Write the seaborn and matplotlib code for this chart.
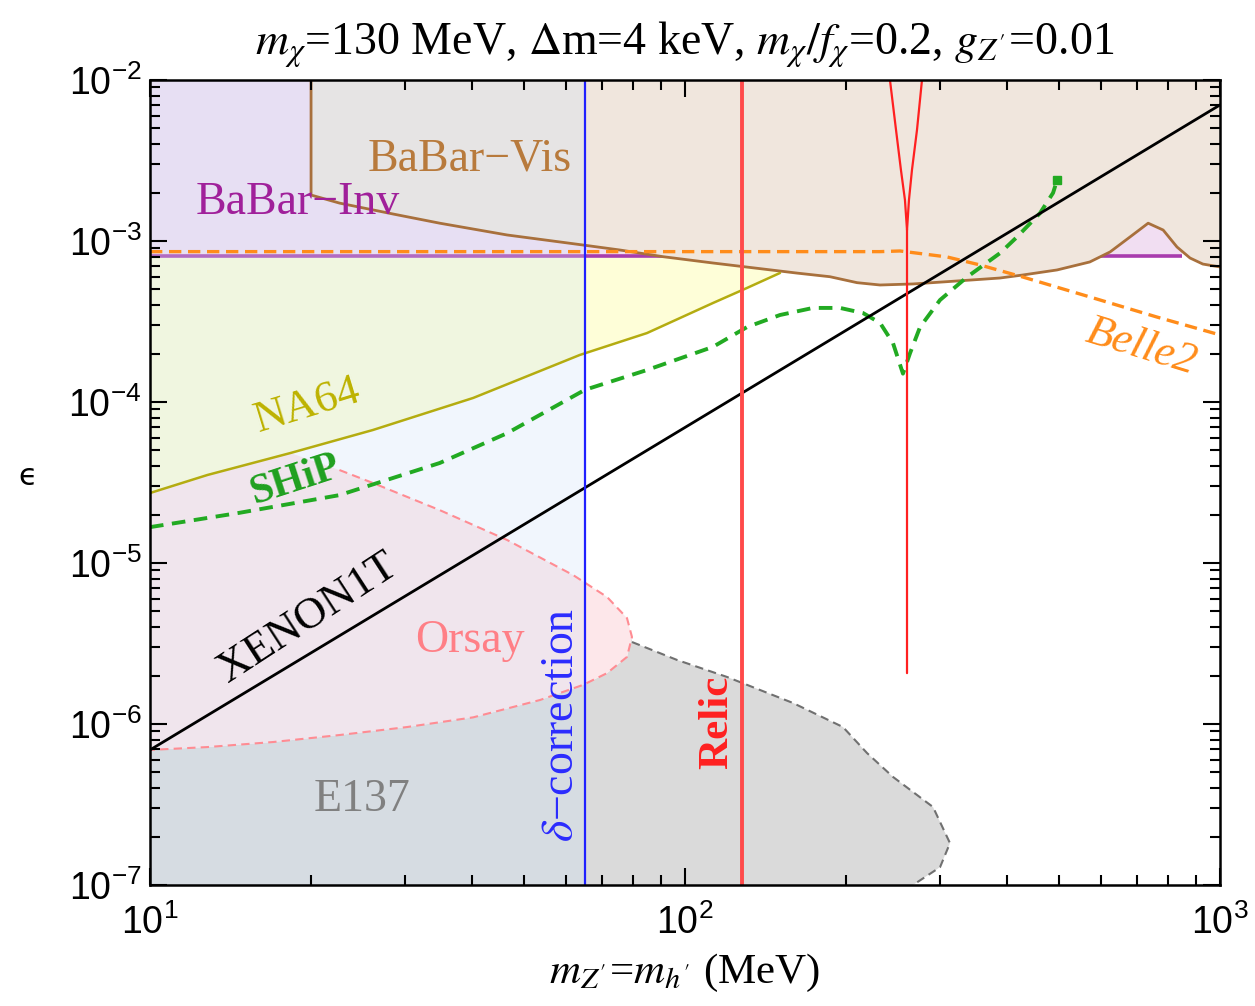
import numpy as np
import matplotlib
matplotlib.use("Agg")
import matplotlib.pyplot as plt
import seaborn as sns
from matplotlib.ticker import LogLocator, NullFormatter

# ---------------- data: dark-photon mass (MeV) vs kinetic mixing epsilon ----------------
x_range = [10.0, 1000.0]
y_range = [1e-7, 1e-2]

delta_mass = 65.0          # delta-correction boundary
relic_mass = 128.0         # relic line

babar_inv_eps = 8.07e-4
babar_inv_mmax = 849.0

babar_vis_m = [20.0, 20.0, 22.6, 28.5, 34.8, 46.5, 64.5, 75.6, 91.0, 112.8, 139.9,
               161.9, 186.6, 209.7, 231.5, 266.8, 308.9, 388.0, 428.0, 496.0, 571.0,
               623.0, 679.0, 734.0, 783.0, 831.0, 879.0, 929.0, 1000.0]
babar_vis_eps = [1e-2, 1.93e-3, 1.72e-3, 1.47e-3, 1.29e-3, 1.09e-3, 9.44e-4, 8.79e-4,
                 7.99e-4, 7.30e-4, 6.70e-4, 6.32e-4, 6.00e-4, 5.51e-4, 5.33e-4, 5.41e-4,
                 5.59e-4, 5.89e-4, 6.15e-4, 6.61e-4, 7.41e-4, 8.55e-4, 1.06e-3, 1.29e-3,
                 1.17e-3, 9.18e-4, 7.84e-4, 7.19e-4, 6.90e-4]

na64_m = [10.0, 12.8, 18.3, 26.1, 40.2, 63.6, 84.9, 112.8, 130.6, 150.5]
na64_eps = [2.72e-5, 3.52e-5, 4.82e-5, 6.70e-5, 1.06e-4, 1.96e-4, 2.68e-4, 4.12e-4,
            5.11e-4, 6.33e-4]

ship_m = [10.0, 14.7, 22.6, 34.8, 46.5, 65.0, 84.9, 112.8, 130.6, 150.5, 173.5, 194.9,
          215.1, 231.5, 244.8, 255.5, 263.4, 275.0, 299.7, 336.6, 388.0, 417.5, 460.9,
          487.5, 496.0]
ship_eps = [1.67e-5, 2.05e-5, 2.64e-5, 4.18e-5, 6.4e-5, 1.19e-4, 1.58e-4, 2.20e-4,
            2.92e-4, 3.47e-4, 3.84e-4, 3.84e-4, 3.57e-4, 3.10e-4, 2.32e-4, 1.50e-4,
            2.01e-4, 2.92e-4, 4.30e-4, 5.97e-4, 8.41e-4, 1.06e-3, 1.49e-3, 1.99e-3,
            2.39e-3]

belle2_m = [10.0, 231.5, 252.3, 308.9, 355.9, 428.3, 571.5, 762.4, 1000.0]
belle2_eps = [8.59e-4, 8.59e-4, 8.67e-4, 7.96e-4, 7.10e-4, 5.97e-4, 4.49e-4, 3.37e-4,
              2.61e-4]

xenon_m = [10.0, 1000.0]
xenon_eps = [6.9e-7, 7.0e-3]

orsay_upper_m = [22.6, 26.1, 34.8, 46.5, 61.8, 71.5, 77.9, 79.6]
orsay_upper_eps = [3.78e-5, 3.14e-5, 2.13e-5, 1.39e-5, 8.41e-6, 6.15e-6, 4.55e-6, 3.47e-6]
orsay_lower_m = [79.6, 77.9, 71.5, 64.5, 53.6, 40.2, 30.2, 22.6, 17.0, 12.8, 10.0]
orsay_lower_eps = [3.47e-6, 2.61e-6, 2.07e-6, 1.75e-6, 1.41e-6, 1.10e-6, 9.57e-7,
                   8.54e-7, 7.73e-7, 7.19e-7, 6.90e-7]

e137_m = [79.6, 96.6, 119.8, 159.2, 197.4, 218.9, 244.8, 290.8, 312.8, 299.7, 266.8]
e137_eps = [3.23e-6, 2.50e-6, 1.96e-6, 1.35e-6, 9.57e-7, 6.60e-7, 4.69e-7, 3.05e-7,
            1.82e-7, 1.29e-7, 1.0e-7]

# relic curve around the 2 m_chi resonance
relic_left_m = [241.6, 248.0, 253.3, 257.7, 260.0, 260.0]
relic_left_eps = [1e-2, 4.89e-3, 2.76e-3, 1.80e-3, 1.17e-3, 2.07e-6]
relic_right_m = [277.3, 271.4, 265.6, 262.2, 260.0]
relic_right_eps = [1e-2, 4.89e-3, 2.76e-3, 1.80e-3, 1.17e-3]

# ---------------- style ----------------
sns.set_theme(style="ticks")
plt.rcParams["font.family"] = ["Liberation Sans", "DejaVu Sans"]
plt.rcParams["mathtext.fontset"] = "custom"
plt.rcParams["mathtext.rm"] = "Liberation Sans"
plt.rcParams["mathtext.it"] = "Liberation Sans:italic"

SERIF = ["Liberation Serif", "DejaVu Serif"]

fig = plt.figure(figsize=(12.55, 10.06), dpi=100)
ax = fig.add_axes([150 / 1255, 1 - 885 / 1006, 1070 / 1255, 805 / 1006])
ax.set_xscale("log")
ax.set_yscale("log")
ax.set_xlim(*x_range)
ax.set_ylim(*y_range)

# ---------------- shaded regions ----------------
# E137 (upper edge follows the Orsay lower boundary on the left)
ax.fill(orsay_lower_m[::-1] + e137_m + [10.0],
        orsay_lower_eps[::-1] + e137_eps + [1e-7], color="#dadada", lw=0, zorder=1)

# Orsay: bounded above by the NA64 curve on the far left
na64_left_m = [m for m in na64_m if m < 22.6]
na64_left_eps = [e for m, e in zip(na64_m, na64_eps) if m < 22.6]
ax.fill(na64_left_m + orsay_upper_m + orsay_lower_m[1:],
        na64_left_eps + orsay_upper_eps + orsay_lower_eps[1:],
        color="#fde7ea", lw=0, zorder=1)

# NA64
ax.fill(na64_m + [na64_m[-1], na64_m[0]],
        na64_eps + [babar_inv_eps, babar_inv_eps],
        color="#fefed8", lw=0, zorder=1)

# BaBar invisible
ax.fill([10.0, babar_inv_mmax, babar_inv_mmax, 10.0],
        [babar_inv_eps, babar_inv_eps, 1e-2, 1e-2], color="#f1def2", lw=0, zorder=2)
ax.plot([10.0, babar_inv_mmax], [babar_inv_eps, babar_inv_eps], color="#a83cae",
        lw=2.6, zorder=2.5, solid_capstyle="butt")

# BaBar visible
ax.fill(babar_vis_m + [1000.0], babar_vis_eps + [1e-2], color="#f0e6dd", lw=0, zorder=3)

# delta-correction band
ax.axvspan(x_range[0], delta_mass, color="#cfe2f8", alpha=0.28, lw=0, zorder=3.5)

# ---------------- curves ----------------
sns.lineplot(x=babar_vis_m, y=babar_vis_eps, ax=ax, sort=False, estimator=None,
             color="#a8703c", lw=2.0, zorder=4)
sns.lineplot(x=na64_m, y=na64_eps, ax=ax, sort=False, estimator=None,
             color="#b4ac10", lw=1.8, zorder=4)
sns.lineplot(x=orsay_upper_m + orsay_lower_m[1:], y=orsay_upper_eps + orsay_lower_eps[1:],
             ax=ax, sort=False, estimator=None, color="#ff8c93", lw=1.5,
             linestyle=(0, (4, 2.5)), zorder=4)
sns.lineplot(x=e137_m, y=e137_eps, ax=ax, sort=False, estimator=None,
             color="#707070", lw=1.5, linestyle=(0, (4, 2.5)), zorder=4)
sns.lineplot(x=belle2_m, y=belle2_eps, ax=ax, sort=False, estimator=None,
             color="#ff8c1a", lw=2.4, linestyle=(0, (3.7, 2.0)), zorder=5)
sns.lineplot(x=ship_m, y=ship_eps, ax=ax, sort=False, estimator=None,
             color="#22aa22", lw=2.8, linestyle=(0, (3.5, 2.2)), zorder=5)
ax.plot(ship_m[-1], ship_eps[-1], marker="s", ms=6, color="#22aa22", zorder=5)
sns.lineplot(x=xenon_m, y=xenon_eps, ax=ax, sort=False, estimator=None,
             color="black", lw=2.0, zorder=6)
ax.axvline(delta_mass, color="#2020ff", lw=1.6, zorder=6)
ax.axvline(relic_mass, color="#ff4a4a", lw=2.8, zorder=6)
sns.lineplot(x=relic_left_m, y=relic_left_eps, ax=ax, sort=False, estimator=None,
             color="#ff2020", lw=1.6, zorder=6)
sns.lineplot(x=relic_right_m, y=relic_right_eps, ax=ax, sort=False, estimator=None,
             color="#ff2020", lw=1.6, zorder=6)

# ---------------- labels ----------------
def label(x, y, s, color, size=32, **kw):
    ax.text(x, y, s, color=color, transform=ax.transAxes, ha="center", va="center",
            family=SERIF, fontsize=size, zorder=8, **kw)

label(0.299, 0.901, "BaBar\u2212Vis", "#b87a3c", 33)
label(0.138, 0.848, "BaBar\u2212Inv", "#a0209a", 33)
label(0.147, 0.596, "NA64", "#bdb200", 32, rotation=17)
label(0.136, 0.503, "SHiP", "#1fa01f", 30, rotation=18, fontweight="bold")
label(0.148, 0.332, "XENON1T", "black", 32, rotation=33)
label(0.299, 0.304, "Orsay", "#ff7f86", 33)
label(0.198, 0.106, "E137", "#808080", 33)
label(0.385, 0.199, "$\\delta$\u2212correction", "#2b2bff", 33, rotation=90,
      math_fontfamily="stix")
label(0.530, 0.202, "Relic", "#ff2020", 31, rotation=90, fontweight="bold")
label(0.926, 0.668, "Belle2", "#ff8c1a", 32, rotation=-17, style="italic")

ax.set_title("$m_\\chi$=130 MeV, $\\Delta$m=4 keV, $m_\\chi/f_\\chi$=0.2, $g_{Z'}$=0.01",
             family=SERIF, math_fontfamily="stix", fontsize=33, pad=18, color="black")
ax.set_xlabel("$m_{Z'}$=$m_{h'}$ (MeV)", family=SERIF, math_fontfamily="stix",
              fontsize=31, labelpad=7, color="black")
ax.set_ylabel("\u03f5", family=["DejaVu Sans"], fontsize=22, rotation=0,
              color="black")
ax.yaxis.set_label_coords(-0.114, 0.49)

# ---------------- axes ----------------
ax.xaxis.set_major_locator(LogLocator(base=10, numticks=10))
ax.yaxis.set_major_locator(LogLocator(base=10, numticks=10))
ax.xaxis.set_minor_locator(LogLocator(base=10, subs=np.arange(2, 10), numticks=20))
ax.yaxis.set_minor_locator(LogLocator(base=10, subs=np.arange(2, 10), numticks=20))
ax.xaxis.set_minor_formatter(NullFormatter())
ax.yaxis.set_minor_formatter(NullFormatter())
ax.tick_params(which="both", direction="in", top=True, right=True, color="black",
               width=1.5)
ax.tick_params(which="major", length=12, labelsize=27, labelcolor="black")
ax.tick_params(which="minor", length=7)
ax.tick_params(axis="x", which="major", pad=14)
ax.tick_params(axis="y", which="major", pad=6)
ax.xaxis.set_zorder(9)
ax.yaxis.set_zorder(9)
for s in ax.spines.values():
    s.set_linewidth(1.8)
    s.set_color("black")
    s.set_zorder(10)

fig.savefig("out.png", dpi=100, facecolor="white")
